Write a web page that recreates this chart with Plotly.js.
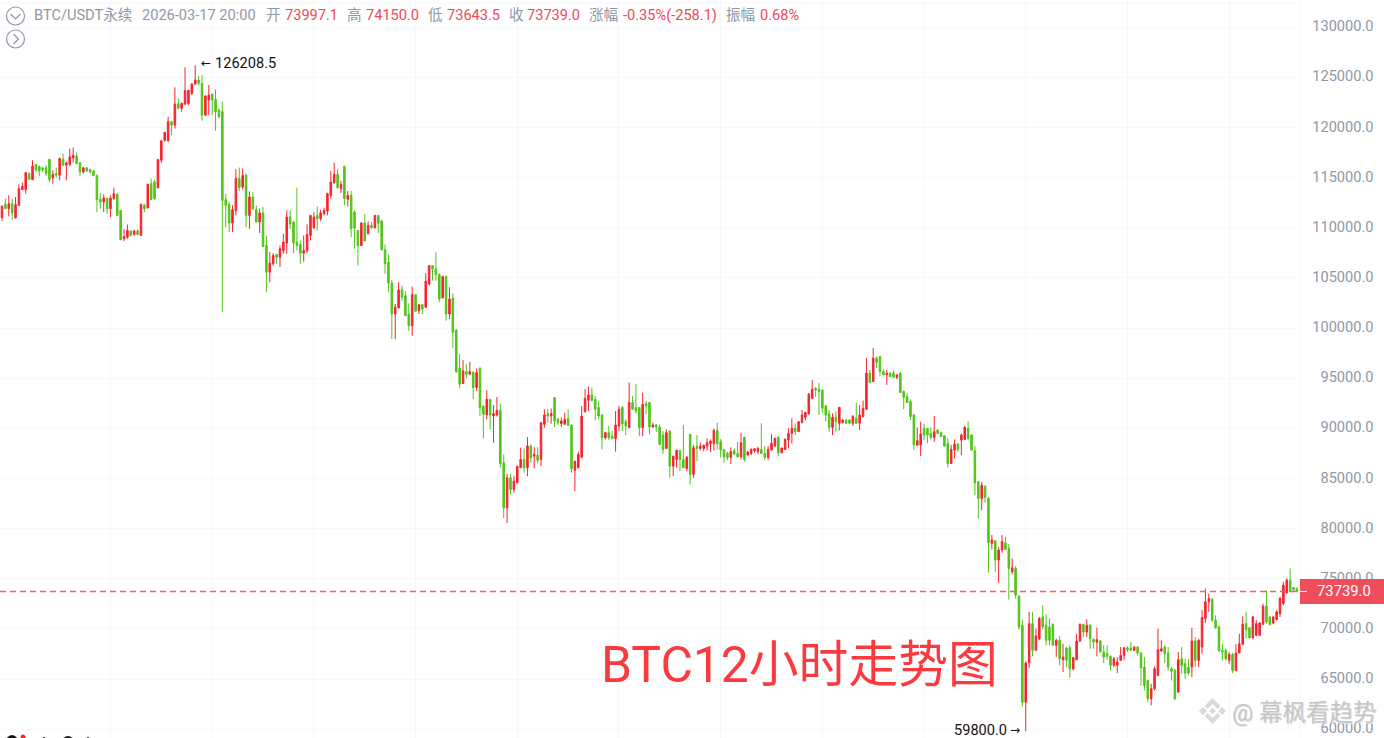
<!DOCTYPE html>
<html>
<head>
<meta charset="utf-8">
<script src="https://cdn.plot.ly/plotly-3.0.1.min.js"></script>
<style>html,body{margin:0;padding:0;background:#fff;overflow:hidden}#paper{width:1384px;height:738px}</style>
</head>
<body>
<div id="paper"></div>
<script>
"use strict"

var opens = [111000,112330,111900,112400,111000,112230,113800,113800,115400,114800,
116300,116130,115970,115970,116830,114970,115400,115230,116830,116230,
116330,116970,117130,116470,115570,115970,115800,115670,115230,112830,
112570,112900,111900,112900,113330,111730,108900,109070,109670,109330,
109670,109230,112230,112000,114400,114570,113970,116730,118730,118670,
120570,120230,122330,121900,122330,122400,123400,124330,124730,124400,
121230,122730,123330,122800,121730,121570,112800,112330,110470,111730,
114900,114070,115230,111230,113070,111800,110570,111470,108230,105570,
106400,107330,107070,107730,108470,111070,110570,108570,108330,107470,
107730,109230,110000,111230,110900,111400,111670,113230,114470,115330,
113900,116130,112830,113230,111570,109730,108230,110470,109400,110230,
110000,111230,110670,107800,106570,104470,101400,102000,103800,103230,
101400,100230,103330,101730,102330,102070,104400,106230,105900,105330,
103000,105130,101400,103000,99800,96000,94470,95670,95400,95570,
94070,96000,92230,91330,92900,91230,91330,91800,86570,82070,
85070,83900,84570,86070,86900,86070,88230,87230,87330,86900,
90400,91470,91230,93070,90900,90470,90400,90970,90330,85800,
86070,87130,91670,92800,93330,92900,92070,91330,89070,89570,
89230,88970,90230,92070,90670,90070,92570,92070,92070,90070,
92470,92570,90130,90330,90130,89330,88000,89730,86230,86900,
87800,86900,86000,89400,85400,88230,88000,88000,88230,88470,
88470,89800,88670,87900,87500,87100,87770,87500,87170,89100,
87330,87500,87770,87670,87900,87500,87100,87830,88230,89100,
87570,87900,88830,89500,90000,89670,90570,91100,91430,93000,
94000,93900,93830,92230,91430,90100,91100,90500,90570,90830,
90830,90500,91000,90500,91170,91900,95500,94670,97000,97170,
95670,95330,95500,95500,95070,95500,93670,93170,92670,91330,
88330,88330,90000,90000,89500,89100,89830,89570,89270,88500,
86500,87830,88430,88830,88900,90000,89330,87770,84670,83000,
84230,83030,78530,78800,76870,77870,78600,78030,75700,76030,
73270,70370,62700,66600,70530,67870,69030,71200,70370,70200,
70470,68370,68870,66930,68100,68130,66030,66930,68800,70470,
69700,70370,68970,68670,68800,67700,67530,67270,66370,66370,
66870,67370,68130,68100,67870,68200,67600,66200,64870,63030,
64030,65370,67800,68200,67600,66030,65870,63700,67030,66530,
66200,66200,68800,66870,68200,71030,72700,72970,70870,70200,
67870,67870,66870,67470,65870,67600,68470,70530,70130,69100,
69370,69370,70470,72270,71200,70600,70930,71530,72530,73600,
74870,74130,73997.1];

var highs = [112230,112900,113230,112900,113070,114330,114500,115500,115500,116730,
116330,116130,116070,116230,116830,115730,116000,117000,117400,116570,
117900,118000,117500,116570,116070,116070,115900,115800,115300,113470,
113330,113070,113230,114000,113470,111730,109870,110330,109730,109800,
109870,112400,112400,114400,114900,114800,116830,118730,119570,121070,
120670,124000,122900,122470,126000,123730,124400,126208.5,125130,125230,
123230,124230,123330,123800,121900,122570,113400,112570,112230,115830,
116000,115900,115400,113630,113570,112230,111900,112070,109230,107570,
107470,107330,108230,109400,111730,111730,110670,114000,108730,109230,
110330,111230,111570,112130,111800,112000,113500,115670,116470,115830,
114670,116170,113670,113670,111730,109730,110570,111330,110630,110570,
111230,111230,110730,108330,107330,104800,102400,104570,104230,103670,
102470,104130,103330,102330,102330,105470,106230,106230,107570,105470,
105230,105230,104070,103470,99900,97400,96800,96400,96630,95730,
95970,96070,92230,93800,92900,92330,93130,92470,87400,85470,
85470,85230,86230,88070,88000,89130,88400,88130,88130,90570,
91900,91900,91970,93070,91070,91070,91570,91900,90400,86730,
87670,92230,93900,94170,94070,93230,92670,91400,89670,90230,
89730,91730,92230,92230,90900,94570,93230,94400,92070,93570,
92730,92630,90570,90400,90400,89730,89900,89800,87230,87900,
87800,90330,87230,89400,88330,89330,88570,88330,89000,88900,
89970,90570,88930,87900,87670,88100,88000,88670,89570,89100,
87770,88000,88000,88170,90500,88230,88230,89430,89070,89230,
88100,89000,90000,91000,90500,90670,91830,91670,93500,94830,
94100,94500,93830,92330,91830,91500,91670,92100,90900,90900,
90900,91330,92570,92330,92770,97000,95830,98000,97170,97170,
95900,95830,95600,95770,95400,95600,93770,93500,92900,91430,
90100,90670,90430,90000,90100,91230,89900,89670,89330,89000,
88330,88900,88500,89500,90230,90670,89430,88230,84670,84670,
84330,83130,79370,78870,78130,79370,79200,78470,77030,76270,
73370,70870,66800,71700,71700,70030,71200,72370,71470,71030,
70530,69030,69270,68530,68200,68370,67200,69530,70530,70470,
70970,70470,69030,70130,68870,68370,68370,67370,67200,67200,
68200,68130,68270,68700,68270,68270,67700,67200,64930,64530,
66270,70030,68870,68370,68200,66200,66030,67700,68200,67030,
67030,70130,69200,69030,71870,74030,73530,73030,71370,70370,
68530,68030,67700,67600,68470,69530,71270,71700,70200,71300,
70870,70700,72530,73870,71270,71270,71870,73200,74700,75030,
76030,74200,74150];

var lows = [110670,111870,111130,110800,110900,112230,113730,113400,114830,114730,
115570,115130,115570,115170,114570,114400,114970,114730,116230,114730,
116130,116500,116330,115170,115400,115570,115400,115130,111570,111900,
111570,111400,111070,112800,111230,108800,108670,108900,109130,109230,
109230,109230,111570,111900,112730,112730,113970,116470,118570,118570,
119230,119900,121800,121570,122230,122230,123230,124230,124200,120670,
121130,121230,121230,119670,120900,101570,110070,109570,109570,111230,
113670,113800,110070,109900,111730,110570,109470,108070,103570,104570,
106230,106400,106070,107400,107400,109900,107470,107730,106400,106630,
107470,108730,109900,109730,110670,111230,111230,112900,114400,113900,
113470,112230,112130,109070,107900,106230,108230,108670,109400,109900,
109900,109470,107730,105400,103570,98900,98900,102000,102730,101230,
99730,99230,101670,101400,101400,102070,104230,104730,104730,102570,
103000,100730,100900,98000,95570,94000,94470,95000,95330,92900,
93730,91230,89000,90900,89900,88570,91170,86070,81070,80570,
83400,83570,84570,86070,85570,85230,86570,86000,86570,86230,
90070,90570,90470,90130,90330,90130,90400,90230,85570,83730,
86000,87000,91570,91730,92670,90800,90900,87900,88900,88830,
88970,87670,89730,89730,89330,90070,91900,91470,89230,89230,
91400,89400,90070,89670,88400,87470,88000,85070,85230,86070,
85730,86070,85730,84400,85070,86730,87800,87730,87800,87630,
87800,87900,87100,86570,86830,86430,87330,87100,86900,86670,
87330,87330,87570,87430,87500,86830,86830,87830,88170,87230,
87500,87830,88000,88500,89330,89670,90500,90830,91430,93000,
93170,91330,91570,90670,89670,89330,89670,89770,90500,90430,
90430,90230,90500,89830,91100,91830,94500,94670,96000,95170,
95330,94330,95100,95000,94900,93570,91900,92570,90830,87830,
88230,87230,88830,88500,88900,88670,89430,89170,88230,86100,
86500,87000,87670,87330,88830,88830,87770,83330,81000,81830,
82570,75600,77930,75700,74600,77600,77930,72930,75470,73030,
69930,62270,59800,66130,67270,67870,68870,69930,68370,68370,
68370,67200,66370,65700,66200,65130,65870,66930,68700,69200,
69200,68030,68030,67270,67700,66600,66930,65870,66200,65600,
66870,66870,67700,67800,67800,67370,64370,63870,62700,62370,
63870,65270,67700,66600,65870,64870,62930,63700,65530,65030,
65370,65200,66200,66200,67530,70600,71700,70700,70030,67800,
66870,66870,66470,65600,65800,67600,68370,69030,69100,69030,
69270,69300,70400,70530,70370,70470,70870,71200,72370,73530,
73700,73700,73643.5];

var closes = [112130,111900,112400,111470,112300,113900,114130,115500,114830,116130,
115800,115670,115800,115400,114800,115330,115230,116900,116230,116470,
117070,117230,116400,115570,115970,115670,115570,115200,112800,112570,
112970,111900,112970,113400,111230,108800,109130,109730,109230,109670,
109330,112330,111900,114330,112830,112900,116800,118670,119500,120570,
120230,122330,121900,122400,123670,123700,124330,124730,124400,121230,
123130,123230,122730,121570,121070,112730,112230,110470,111800,114900,
114000,115230,111230,113070,111900,110570,111470,108130,105570,106470,
107230,107070,107900,108570,111070,110400,108470,108230,107470,107730,
109330,111230,111070,110900,111500,111730,113400,114570,115330,114000,
114330,112900,113230,109900,109970,108230,110470,108670,110230,110000,
111230,110470,107800,106400,104470,101400,102070,103800,103070,101230,
100230,103330,101670,102330,101900,104670,106230,105900,105330,102900,
105130,101400,102900,99570,95630,94400,95730,95400,95670,94070,
95570,92070,91400,92900,91330,91470,91800,86470,82070,85070,
83900,84730,86230,86900,86070,88230,87070,87400,86800,90570,
91330,91230,91470,90730,90570,90730,90900,90300,85970,86730,
87400,91230,92970,93330,92800,91900,91230,89070,89570,89070,
88970,90330,91900,90470,90230,92570,91900,91730,90070,92400,
92230,90130,90330,90130,88400,87900,89570,86230,87230,87800,
86900,86070,87130,85400,88070,88000,88230,88330,88570,88730,
89800,88470,87830,87170,87100,87670,87430,87170,88570,86900,
87630,87900,87970,88000,87500,87100,87900,88500,89000,87570,
88030,88900,89500,90000,89670,90670,91330,91570,93430,93900,
93830,93670,92000,91330,90100,91100,90670,92100,90830,90500,
90500,91170,90500,91330,92000,95500,94570,97000,96570,95670,
95330,95500,95170,95100,95330,93570,93100,92570,91170,88330,
88770,89430,89330,89330,89100,89670,89500,89170,88230,86500,
87900,88430,87900,89330,90100,89000,87830,84570,83000,84330,
83100,78600,78870,76870,77870,78700,77930,76030,76100,73370,
70200,62700,66600,70530,67870,69300,71030,70200,68870,68870,
68370,68870,67030,67200,66870,66030,67130,68800,70470,69700,
70370,69030,68700,68930,67700,67200,67270,66370,67030,66700,
67370,68130,67930,67870,68200,67600,66130,64370,63030,64030,
66030,67930,68030,67530,66200,65770,63030,66930,66370,65600,
65600,68800,66870,68870,71130,72700,73030,70870,70130,67800,
67700,67030,67470,65870,67600,68530,70470,69930,69100,71200,
70530,70600,72270,70700,70430,71200,71700,73030,74370,74870,
73700,73930,73739.0];

var yTicks = [60000,65000,70000,75000,80000,85000,90000,95000,100000,105000,110000,115000,120000,125000,130000];
var gridCandles = [32,62,92,122,152,182,212,242,272,302,332,362];
var lastPrice = 73739.0;
var maxPrice = 126208.5;
var maxIndex = 57;
var minPrice = 59800.0;
var minIndex = 302;

var headerLabels = ["BTC/USDT永续","2026-03-17 20:00","开","高","低","收","涨幅","振幅"];
var headerLabelX = [33,141,265,346,427,508,588,725];
var headerValues = ["73997.1","74150.0","73643.5","73739.0","-0.35%(-258.1)","0.68%"];
var headerValueX = [284,365,446,526,622,759];

var W = 1384, H = 738;
var RED = "#f8232f", GREEN = "#52c41a", GREY = "#8e99a8", GRID = "#f6f7f8";
var CJK = "Roboto, 'Noto Sans CJK SC', sans-serif";
var LOGO = "#dadada";

function px(x) { return x / W; }
function py(y) { return 1 - y / H; }

function pageText(text, x, y, color, size, anchor) {
    return {
        text: text, xref: "paper", yref: "paper", x: px(x), y: py(y),
        xanchor: anchor || "left", yanchor: "middle", showarrow: false,
        borderpad: 0, font: {family: CJK, size: size, color: color}
    };
}

function extremeText(text, x, y, xanchor, xshift, yshift, size, family) {
    return {
        text: text, x: x, y: y, xanchor: xanchor, yanchor: "middle",
        xshift: xshift, yshift: yshift, showarrow: false,
        font: {family: family, size: size, color: "#111"}
    };
}

function pageCircle(cx, cy, rx, ry, style) {
    return Object.assign({
        type: "circle", xref: "paper", yref: "paper", layer: "above",
        x0: px(cx - rx), x1: px(cx + rx), y0: py(cy + ry), y1: py(cy - ry)
    }, style);
}

function pagePath(points, style) {
    var d = points.map(function(p, i) {
        return (i == 0 ? "M" : "L") + px(p[0]) + "," + py(p[1]);
    }).join(" ");
    return Object.assign({type: "path", xref: "paper", yref: "paper", layer: "above", path: d}, style);
}

function diamond(cx, cy, r) {
    return pagePath([[cx, cy - r], [cx + r, cy], [cx, cy + r], [cx - r, cy], [cx, cy - r]],
        {fillcolor: LOGO, line: {width: 0}});
}

var annotations = [];
headerLabels.forEach(function(t, i) {
    annotations.push(pageText(t, headerLabelX[i], 15, GREY, 14.6));
});
headerValues.forEach(function(t, i) {
    annotations.push(pageText(t, headerValueX[i], 15, "#f0485a", 14.6));
});

annotations.push(extremeText("←", maxIndex, maxPrice, "left", 4, 2, 12, "DejaVu Sans"));
annotations.push(extremeText(maxPrice.toFixed(1), maxIndex, maxPrice, "left", 18, 2, 14.6, "Roboto, sans-serif"));
annotations.push(extremeText(minPrice.toFixed(1), minIndex, minPrice, "right", -17, 1, 14.6, "Roboto, sans-serif"));
annotations.push(extremeText("→", minIndex, minPrice, "right", -4, 1, 12, "DejaVu Sans"));

annotations.push(pageText("BTC12小时走势图", 600, 665, "#f93b40", 49.8));
annotations.push(pageText("@ 幕枫看趋势", 1232, 714, "#e6e6e6", 23.5));
annotations.push(pageText("@ 幕枫看趋势", 1231, 713, "#c6c6c6", 23.5));
annotations.push({
    text: lastPrice.toFixed(1), x: px(1373), xref: "paper", y: lastPrice, yref: "y",
    xanchor: "right", yanchor: "middle", showarrow: false,
    font: {family: "Roboto, sans-serif", size: 14.8, color: "#fff"}
});

var shapes = [
    // last price line and its tag
    {type: "line", xref: "paper", yref: "y", x0: 0, x1: px(1300), y0: lastPrice, y1: lastPrice,
     line: {color: "#ff5a6a", width: 1.5, dash: "6px,4px"}},
    {type: "rect", xref: "paper", yref: "y", layer: "above", x0: px(1300), x1: 1,
     y0: lastPrice - 1250, y1: lastPrice + 1250, fillcolor: "#ef4c5c", line: {width: 0}},
    {type: "line", xref: "paper", yref: "y", layer: "above", x0: px(1300), x1: px(1307), y0: lastPrice, y1: lastPrice,
     line: {color: "#fff", width: 1}},
    // frame
    {type: "line", xref: "paper", yref: "paper", x0: px(1300), x1: px(1300), y0: 0, y1: 1, layer: "below", line: {color: GRID, width: 1}},
    {type: "line", xref: "paper", yref: "paper", x0: 0, x1: px(1300), y0: py(3), y1: py(3), layer: "below", line: {color: GRID, width: 1}},
    // header buttons
    pageCircle(15.5, 16, 9, 9, {line: {color: GREY, width: 1.2}}),
    pagePath([[10.5, 14], [15.5, 19], [20.5, 14]], {line: {color: GREY, width: 1.2}}),
    pageCircle(15.5, 39, 9, 9, {line: {color: GREY, width: 1.2}}),
    pagePath([[13.5, 34], [18.5, 39], [13.5, 44]], {line: {color: GREY, width: 1.2}}),
    // logo cut off by the bottom edge
    pageCircle(12, 744, 7, 9, {fillcolor: "#111", line: {width: 0}}),
    pageCircle(23, 738, 2.5, 3.5, {fillcolor: RED, line: {width: 0}}),
    pageCircle(44, 742, 2, 5, {fillcolor: "#222", line: {width: 0}}),
    pageCircle(68, 744, 7, 8, {fillcolor: "#222", line: {width: 0}}),
    pageCircle(88, 742, 2, 5, {fillcolor: "#222", line: {width: 0}}),
    // watermark logo
    pagePath([[1212.5, 698], [1220.5, 706], [1217.5, 709], [1212.5, 704], [1207.5, 709], [1204.5, 706], [1212.5, 698]],
        {fillcolor: LOGO, line: {width: 0}}),
    pagePath([[1212.5, 724], [1220.5, 716], [1217.5, 713], [1212.5, 718], [1207.5, 713], [1204.5, 716], [1212.5, 724]],
        {fillcolor: LOGO, line: {width: 0}}),
    diamond(1203, 711, 4),
    diamond(1222, 711, 4),
    diamond(1212.5, 711, 3.5)
];

var trace = {
    type: "candlestick",
    x: closes.map(function(_, i) { return i; }),
    open: opens, high: highs, low: lows, close: closes,
    whiskerwidth: 0,
    increasing: {line: {color: RED, width: 1}, fillcolor: RED},
    decreasing: {line: {color: GREEN, width: 1}, fillcolor: GREEN},
    hoverinfo: "skip"
};

var layout = {
    width: W, height: H,
    margin: {l: 0, r: 0, t: 0, b: 0},
    paper_bgcolor: "#fff", plot_bgcolor: "#fff",
    showlegend: false,
    boxgap: 0.35,
    xaxis: {
        domain: [0, 1300 / W], range: [-0.59, 382.9], type: "linear",
        rangeslider: {visible: false},
        tickmode: "array", tickvals: gridCandles, showticklabels: false, ticks: "",
        showgrid: true, gridcolor: GRID, gridwidth: 1, zeroline: false, showline: false
    },
    yaxis: {
        anchor: "free", position: 1373.5 / W, side: "left",
        range: [59128, 132707],
        tickmode: "array", tickvals: yTicks, ticktext: yTicks.map(function(v) { return v.toFixed(1); }),
        ticks: "", showgrid: true, gridcolor: GRID, gridwidth: 1, zeroline: false, showline: false,
        ticklabelshift: -1,
        tickfont: {family: "Roboto, sans-serif", size: 14.6, color: GREY}
    },
    annotations: annotations,
    shapes: shapes
};

Plotly.newPlot("paper", [trace], layout, {displayModeBar: false, staticPlot: true});
</script>
</body>
</html>
